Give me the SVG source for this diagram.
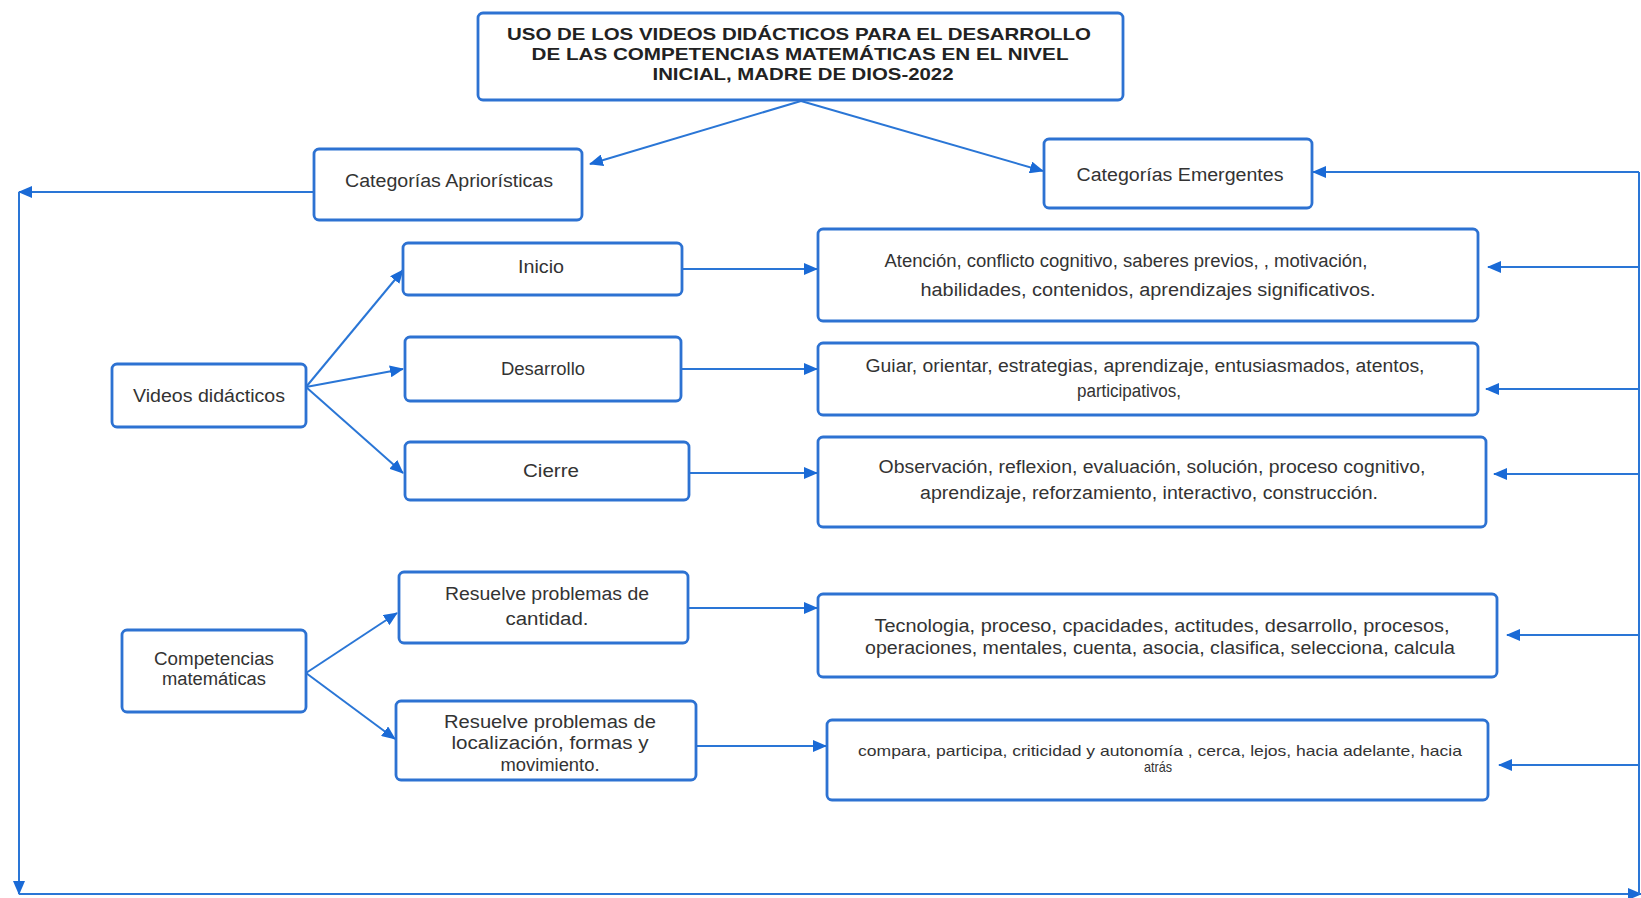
<svg xmlns="http://www.w3.org/2000/svg" width="1641" height="898" viewBox="0 0 1641 898">
  <style>
    .box { fill: #ffffff; stroke: #2d72d2; stroke-width: 2.8; }
    .edge { fill: none; stroke: #2a76d6; stroke-width: 2; }
    .t { font-family: "Liberation Sans", Arial, sans-serif; fill: #333333; text-anchor: middle; }
    .title { font-size: 17px; font-weight: bold; fill: #222222; }
    .lbl { font-size: 18px; }
    .sm { font-size: 15px; }
  </style>
  <defs>
    <marker id="arrow" viewBox="0 0 14 12" refX="13" refY="6" markerWidth="14" markerHeight="12" markerUnits="userSpaceOnUse" orient="auto">
      <path d="M0,0 L14,6 L0,12 Z" fill="#1a6ad6" stroke="none"/>
    </marker>
  </defs>
  <rect width="1641" height="898" fill="#ffffff"/>

  <g id="connectors">
    <!-- title to the two category boxes -->
    <line class="edge" x1="801" y1="101" x2="590" y2="164" marker-end="url(#arrow)"/>
    <line class="edge" x1="801" y1="101" x2="1043" y2="171" marker-end="url(#arrow)"/>
    <!-- outer frame loop -->
    <line class="edge" x1="314" y1="192" x2="19" y2="192" marker-end="url(#arrow)"/>
    <line class="edge" x1="19" y1="192" x2="19" y2="894" marker-end="url(#arrow)"/>
    <line class="edge" x1="19" y1="894" x2="1641" y2="894" marker-end="url(#arrow)"/>
    <line class="edge" x1="1639" y1="894" x2="1639" y2="172"/>
    <line class="edge" x1="1639" y1="172" x2="1313" y2="172" marker-end="url(#arrow)"/>
    <line class="edge" x1="1639" y1="267" x2="1488" y2="267" marker-end="url(#arrow)"/>
    <line class="edge" x1="1639" y1="389" x2="1486" y2="389" marker-end="url(#arrow)"/>
    <line class="edge" x1="1639" y1="474" x2="1494" y2="474" marker-end="url(#arrow)"/>
    <line class="edge" x1="1639" y1="635" x2="1507" y2="635" marker-end="url(#arrow)"/>
    <line class="edge" x1="1639" y1="765" x2="1499" y2="765" marker-end="url(#arrow)"/>
    <!-- videos didácticos branches -->
    <line class="edge" x1="306" y1="387" x2="403" y2="270" marker-end="url(#arrow)"/>
    <line class="edge" x1="306" y1="387" x2="403" y2="369" marker-end="url(#arrow)"/>
    <line class="edge" x1="306" y1="387" x2="403" y2="473" marker-end="url(#arrow)"/>
    <line class="edge" x1="682" y1="269" x2="817" y2="269" marker-end="url(#arrow)"/>
    <line class="edge" x1="681" y1="369" x2="817" y2="369" marker-end="url(#arrow)"/>
    <line class="edge" x1="689" y1="473" x2="817" y2="473" marker-end="url(#arrow)"/>
    <!-- competencias branches -->
    <line class="edge" x1="306" y1="673" x2="397" y2="613" marker-end="url(#arrow)"/>
    <line class="edge" x1="306" y1="673" x2="395" y2="739" marker-end="url(#arrow)"/>
    <line class="edge" x1="688" y1="608" x2="817" y2="608" marker-end="url(#arrow)"/>
    <line class="edge" x1="696" y1="746" x2="826" y2="746" marker-end="url(#arrow)"/>
  </g>

  <g id="title">
    <rect class="box" x="478" y="13" width="645" height="87" rx="5"/>
    <text class="t title" x="799" y="40" textLength="584" lengthAdjust="spacingAndGlyphs">USO DE LOS VIDEOS DIDÁCTICOS PARA EL DESARROLLO</text>
    <text class="t title" x="800" y="60" textLength="537" lengthAdjust="spacingAndGlyphs">DE LAS COMPETENCIAS MATEMÁTICAS EN EL NIVEL</text>
    <text class="t title" x="803" y="80" textLength="301" lengthAdjust="spacingAndGlyphs">INICIAL, MADRE DE DIOS-2022</text>
  </g>

  <g id="cat-aprioristicas">
    <rect class="box" x="314" y="149" width="268" height="71" rx="5"/>
    <text class="t lbl" x="449" y="187" textLength="208" lengthAdjust="spacingAndGlyphs">Categorías Apriorísticas</text>
  </g>

  <g id="cat-emergentes">
    <rect class="box" x="1044" y="139" width="268" height="69" rx="5"/>
    <text class="t lbl" x="1180" y="181" textLength="207" lengthAdjust="spacingAndGlyphs">Categorías Emergentes</text>
  </g>

  <g id="videos">
    <rect class="box" x="112" y="364" width="194" height="63" rx="5"/>
    <text class="t lbl" x="209" y="402" textLength="152" lengthAdjust="spacingAndGlyphs">Videos didácticos</text>
  </g>

  <g id="inicio">
    <rect class="box" x="403" y="243" width="279" height="52" rx="5"/>
    <text class="t lbl" x="541" y="273" textLength="46" lengthAdjust="spacingAndGlyphs">Inicio</text>
  </g>

  <g id="desarrollo">
    <rect class="box" x="405" y="337" width="276" height="64" rx="5"/>
    <text class="t lbl" x="543" y="375" textLength="84" lengthAdjust="spacingAndGlyphs">Desarrollo</text>
  </g>

  <g id="cierre">
    <rect class="box" x="405" y="442" width="284" height="58" rx="5"/>
    <text class="t lbl" x="551" y="477" textLength="56" lengthAdjust="spacingAndGlyphs">Cierre</text>
  </g>

  <g id="inicio-detalle">
    <rect class="box" x="818" y="229" width="660" height="92" rx="5"/>
    <text class="t lbl" x="1126" y="267" textLength="483" lengthAdjust="spacingAndGlyphs">Atención, conflicto cognitivo,  saberes previos,  , motivación,</text>
    <text class="t lbl" x="1148" y="296" textLength="455" lengthAdjust="spacingAndGlyphs">habilidades, contenidos,  aprendizajes significativos.</text>
  </g>

  <g id="desarrollo-detalle">
    <rect class="box" x="818" y="343" width="660" height="72" rx="5"/>
    <text class="t lbl" x="1145" y="372" textLength="559" lengthAdjust="spacingAndGlyphs">Guiar, orientar, estrategias, aprendizaje, entusiasmados, atentos,</text>
    <text class="t lbl" x="1129" y="397" textLength="104" lengthAdjust="spacingAndGlyphs">participativos,</text>
  </g>

  <g id="cierre-detalle">
    <rect class="box" x="818" y="437" width="668" height="90" rx="5"/>
    <text class="t lbl" x="1152" y="473" textLength="547" lengthAdjust="spacingAndGlyphs">Observación, reflexion, evaluación, solución, proceso cognitivo,</text>
    <text class="t lbl" x="1149" y="499" textLength="458" lengthAdjust="spacingAndGlyphs">aprendizaje, reforzamiento,  interactivo, construcción.</text>
  </g>

  <g id="competencias">
    <rect class="box" x="122" y="630" width="184" height="82" rx="5"/>
    <text class="t lbl" x="214" y="665" textLength="120" lengthAdjust="spacingAndGlyphs">Competencias</text>
    <text class="t lbl" x="214" y="685" textLength="104" lengthAdjust="spacingAndGlyphs">matemáticas</text>
  </g>

  <g id="cantidad">
    <rect class="box" x="399" y="572" width="289" height="71" rx="5"/>
    <text class="t lbl" x="547" y="600" textLength="204" lengthAdjust="spacingAndGlyphs">Resuelve problemas de</text>
    <text class="t lbl" x="547" y="625" textLength="83" lengthAdjust="spacingAndGlyphs">cantidad.</text>
  </g>

  <g id="localizacion">
    <rect class="box" x="396" y="701" width="300" height="79" rx="5"/>
    <text class="t lbl" x="550" y="728" textLength="212" lengthAdjust="spacingAndGlyphs">Resuelve problemas de</text>
    <text class="t lbl" x="550" y="749" textLength="197" lengthAdjust="spacingAndGlyphs">localización, formas y</text>
    <text class="t lbl" x="550" y="771" textLength="99" lengthAdjust="spacingAndGlyphs">movimiento.</text>
  </g>

  <g id="cantidad-detalle">
    <rect class="box" x="818" y="594" width="679" height="83" rx="5"/>
    <text class="t lbl" x="1162" y="632" textLength="575" lengthAdjust="spacingAndGlyphs">Tecnologia, proceso, cpacidades, actitudes, desarrollo, procesos,</text>
    <text class="t lbl" x="1160" y="654" textLength="590" lengthAdjust="spacingAndGlyphs">operaciones, mentales, cuenta, asocia, clasifica, selecciona, calcula</text>
  </g>

  <g id="localizacion-detalle">
    <rect class="box" x="827" y="720" width="661" height="80" rx="5"/>
    <text class="t sm" x="1160" y="756" textLength="604" lengthAdjust="spacingAndGlyphs">compara, participa, criticidad y autonomía , cerca, lejos, hacia adelante, hacia</text>
    <text class="t sm" x="1158" y="772" textLength="28" lengthAdjust="spacingAndGlyphs">atrás</text>
  </g>
</svg>
